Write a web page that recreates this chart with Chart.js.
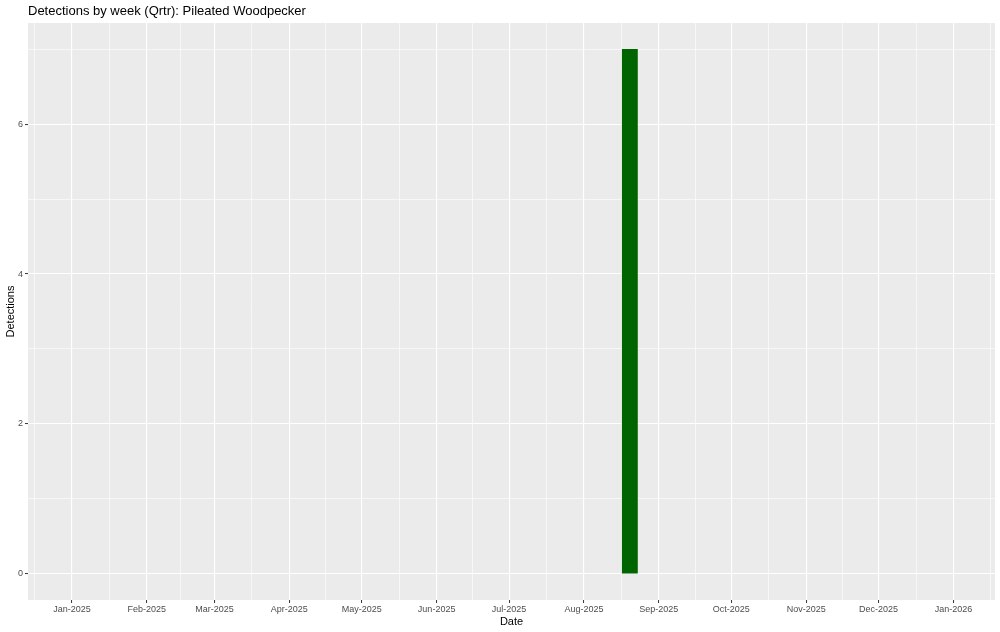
<!DOCTYPE html>
<html>
<head>
<meta charset="utf-8">
<script src="https://cdn.jsdelivr.net/npm/chart.js@4.4.1/dist/chart.umd.min.js"></script>
<style>
  body { margin: 0; background: #fff; }
  #wrap { width: 1000px; height: 632px; }
</style>
</head>
<body>
<div id="wrap"><canvas id="myChart"></canvas></div>
<script>
const weekDates = ['2025-08-20']
const detections = [7]

const monthBreaks = ['2025-01-01', '2025-02-01', '2025-03-01', '2025-04-01', '2025-05-01', '2025-06-01',
    '2025-07-01', '2025-08-01', '2025-09-01', '2025-10-01', '2025-11-01', '2025-12-01', '2026-01-01']
const monthLabels = ['Jan-2025', 'Feb-2025', 'Mar-2025', 'Apr-2025', 'May-2025', 'Jun-2025',
    'Jul-2025', 'Aug-2025', 'Sep-2025', 'Oct-2025', 'Nov-2025', 'Dec-2025', 'Jan-2026']
const yBreaks = [0, 2, 4, 6]
const yLabels = ['0', '2', '4', '6']
const dateLimits = ['2025-01-01', '2025-12-31']

const dayOf = s => (Date.parse(s) - Date.parse('2025-01-01')) / 86400000

// ggplot style: 5% expansion of the date limits
const span = dayOf(dateLimits[1]) - dayOf(dateLimits[0])
const xMin = dayOf(dateLimits[0]) - span * 0.05
const xMax = dayOf(dateLimits[1]) + span * 0.05
const yMin = -0.05 * 7
const yMax = 7 + 0.05 * 7

// major ticks plus the minor ones halfway between them
const ext = ['2024-12-01', ...monthBreaks, '2026-02-01'].map(dayOf)
const xTicks = monthBreaks.map((d, i) => ({ value: dayOf(d), label: monthLabels[i], minor: false }))
for (let i = 0; i < ext.length - 1; i++) {
    const m = (ext[i] + ext[i + 1]) / 2
    if (m > xMin && m < xMax) xTicks.push({ value: m, label: '', minor: true })
}
xTicks.sort((a, b) => a.value - b.value)

const yTicks = yBreaks.map((v, i) => ({ value: v, label: yLabels[i], minor: false }))
for (let i = 0; i < yBreaks.length; i++) {
    const m = yBreaks[i] + 1
    if (m < yMax) yTicks.push({ value: m, label: '', minor: true })
}
yTicks.sort((a, b) => a.value - b.value)

const gridStyle = {
    offset: false,
    color: '#FFFFFF',
    lineWidth: c => (c.tick && c.tick.minor ? 0.6 : 1.1),
    tickColor: c => (c.tick && c.tick.minor ? 'rgba(0,0,0,0)' : '#333333'),
    tickLength: 3,
    tickWidth: 1
}

const panel = {
    id: 'panel',
    beforeDraw: (chart) => {
        const { ctx, chartArea: a } = chart
        ctx.save()
        ctx.fillStyle = '#EBEBEB'
        ctx.fillRect(a.left, a.top, a.right - a.left, a.bottom - a.top)
        ctx.fillStyle = '#000000'
        ctx.font = '13px "Liberation Sans", Arial, sans-serif'
        ctx.textBaseline = 'middle'
        ctx.fillText('Detections by week (Qrtr): Pileated Woodpecker', a.left, 11)
        ctx.restore()
    }
}

const ctx = document.getElementById('myChart').getContext('2d')

const myChart = new Chart(ctx, {
    type: 'bar',
    data: {
        datasets: [{
            data: weekDates.map((d, i) => ({ x: dayOf(d), y: detections[i] })),
            backgroundColor: '#006400',
            borderWidth: 0,
            barThickness: 15
        }]
    },
    options: {
        responsive: true,
        maintainAspectRatio: false,
        animation: false,
        devicePixelRatio: 1,
        layout: { padding: { left: 0, right: 5, top: 23, bottom: 0 } },
        plugins: { legend: { display: false }, tooltip: { enabled: false } },
        scales: {
            x: {
                type: 'linear',
                offset: false,
                min: xMin,
                max: xMax,
                afterBuildTicks: s => { s.ticks = xTicks.map(t => ({ ...t })) },
                afterFit: s => { s.height = 32 },
                grid: gridStyle,
                border: { display: false },
                ticks: {
                    autoSkip: false,
                    maxRotation: 0,
                    padding: 1,
                    color: '#4D4D4D',
                    font: { family: '"Liberation Sans", Arial, sans-serif', size: 9 },
                    callback: (v, i, ticks) => ticks[i].label
                },
                title: {
                    display: true,
                    text: 'Date',
                    color: '#000000',
                    padding: { top: 0, bottom: 3 },
                    font: { family: '"Liberation Sans", Arial, sans-serif', size: 11 }
                }
            },
            y: {
                min: yMin,
                max: yMax,
                afterBuildTicks: s => { s.ticks = yTicks.map(t => ({ ...t })) },
                afterFit: s => { s.width = 28 },
                grid: gridStyle,
                border: { display: false },
                ticks: {
                    padding: 2,
                    color: '#4D4D4D',
                    font: { family: '"Liberation Sans", Arial, sans-serif', size: 9 },
                    callback: (v, i, ticks) => ticks[i].label
                },
                title: {
                    display: true,
                    text: 'Detections',
                    color: '#000000',
                    padding: { top: 4, bottom: 0 },
                    font: { family: '"Liberation Sans", Arial, sans-serif', size: 11 }
                }
            }
        }
    },
    plugins: [panel]
})

// bar width = 90% of one week on the date axis
const xs = myChart.scales.x
myChart.data.datasets[0].barThickness = (xs.getPixelForValue(7) - xs.getPixelForValue(0)) * 0.9
myChart.update()
</script>
</body>
</html>
